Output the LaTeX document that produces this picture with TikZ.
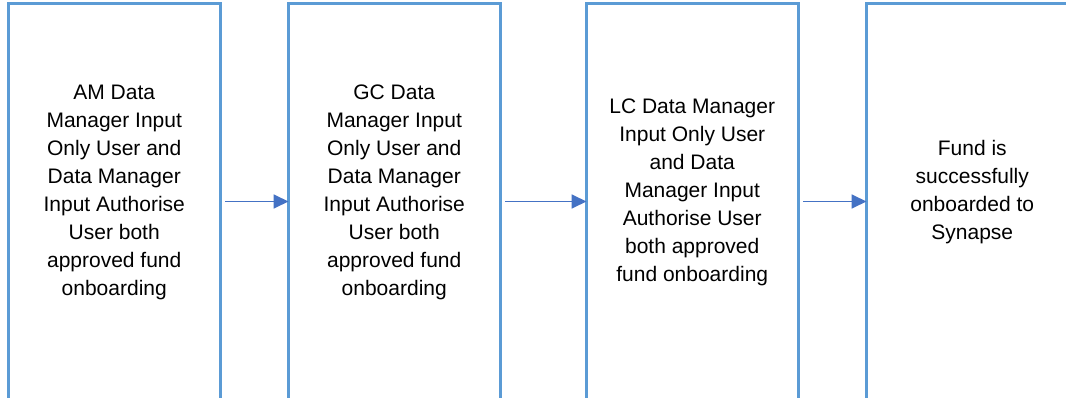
\documentclass[tikz,border=0pt]{standalone}
\usepackage{fontspec}
\setmainfont{Liberation Sans}
\usetikzlibrary{positioning,arrows.meta}

\definecolor{borde}{RGB}{91,155,213}
\definecolor{flechaazul}{RGB}{68,114,196}

\begin{document}
\begin{tikzpicture}[x=1pt,y=1pt,
	caja/.style={draw=borde, line width=3pt, minimum width=211.5pt, minimum height=395pt, inner sep=0pt, outer sep=0pt},
	texto/.style={align=center, inner sep=0pt, font=\fontsize{21}{28}\selectfont},
	flecha/.style={draw=flechaazul, line width=1.8pt, shorten <=5pt, -{Triangle[length=15pt,width=14pt]}}]
		
		% Marco de la figura
		\useasboundingbox (0,0) rectangle (1066,397);
		\clip (0,0) rectangle (1066,397);
		
		% Dibujar las cajas
		\node[caja] (b1) at (114.25,195.5) {};
		\node[caja, right=68.5pt of b1] (b2) {};
		\node[caja, right=86.5pt of b2] (b3) {};
		\node[caja, right=68.5pt of b3] (b4) {};
		
		% Textos de cada paso
		\node[texto] (t1) at ([yshift=9pt]b1.center) {AM Data\\Manager Input\\Only User and\\Data Manager\\Input Authorise\\User both\\approved fund\\onboarding};
		\node[texto] (t2) at ([yshift=9pt]b2.center) {GC Data\\Manager Input\\Only User and\\Data Manager\\Input Authorise\\User both\\approved fund\\onboarding};
		\node[texto] (t3) at ([yshift=9pt]b3.center) {LC Data Manager\\Input Only User\\and Data\\Manager Input\\Authorise User\\both approved\\fund onboarding};
		\node[texto] (t4) at ([yshift=9pt]b4.center) {Fund is\\successfully\\onboarded to\\Synapse};
		
		% Flechas entre pasos
		\foreach \a/\b in {b1/b2, b2/b3, b3/b4} {
			\draw[flecha] (\a.east) -- (\b.west);
		}
		
\end{tikzpicture}
\end{document}
